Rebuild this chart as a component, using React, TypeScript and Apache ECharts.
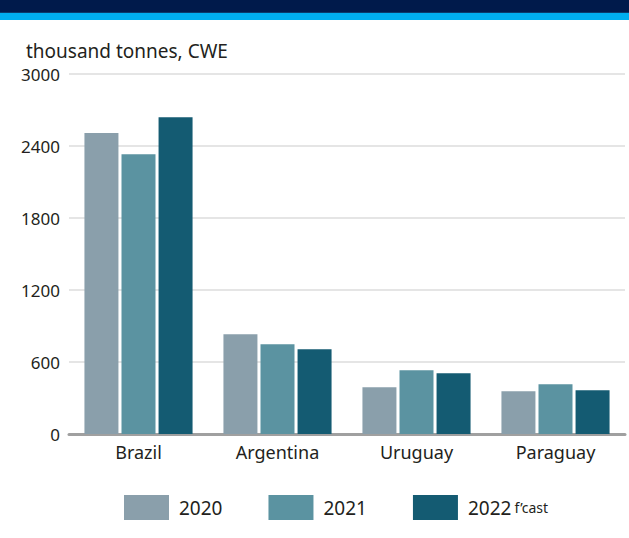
import React, { useEffect, useRef } from "react";
import * as echarts from "echarts";

const categories = ["Brazil", "Argentina", "Uruguay", "Paraguay"];
const seriesNames = ["2020", "2021", "2022 f’cast"];
const values2020 = [2508, 831, 389, 356];
const values2021 = [2331, 747, 531, 414];
const values2022 = [2639, 706, 506, 364];
const yTicks = { min: 0, max: 3000, interval: 600 };
const subtitle = "thousand tonnes, CWE";

const colors = ["#8a9fab", "#5b93a1", "#145b72"];
const FONT = "'Noto Sans', sans-serif";
const TEXT = "#231f20";

export default function App() {
  const ref = useRef<HTMLDivElement>(null);
  useEffect(() => {
    if (!ref.current) return;
    const chart = echarts.init(ref.current, undefined, { renderer: "svg" });
    const data = [values2020, values2021, values2022];
    chart.setOption({
      animation: false,
      backgroundColor: "#ffffff",
      textStyle: { fontFamily: FONT },
      graphic: [
        { type: "rect", shape: { x: 0, y: 0, width: 629, height: 12 }, style: { fill: "#001a4b" }, silent: true },
        { type: "rect", shape: { x: 0, y: 12, width: 629, height: 1 }, style: { fill: "#0a3a6a" }, silent: true },
        { type: "rect", shape: { x: 0, y: 13, width: 629, height: 7 }, style: { fill: "#00aeef" }, silent: true },
      ],
      title: {
        text: subtitle,
        left: 21,
        top: 35,
        textStyle: { fontSize: 19, fontWeight: "normal", color: TEXT, fontFamily: FONT, lineHeight: 22 },
      },
      grid: { left: 69, right: 4, top: 74, bottom: 104, containLabel: false },
      legend: {
        data: seriesNames,
        left: 119,
        top: 490,
        icon: "rect",
        itemWidth: 45,
        itemHeight: 25,
        itemGap: 46,
        formatter: (name: string) =>
          name.startsWith("2022") ? "{a|2022} {b|f’cast}" : "{a|" + name + "}",
        textStyle: {
          color: TEXT,
          fontFamily: FONT,
          padding: [0, 0, 0, 5],
          rich: {
            a: { fontSize: 19, color: TEXT, fontFamily: FONT },
            b: { fontSize: 14, color: TEXT, fontFamily: FONT },
          },
        },
      },
      xAxis: {
        type: "category",
        data: categories,
        axisTick: { show: false },
        axisLine: { lineStyle: { color: "#a0a0a0", width: 3 } },
        axisLabel: { fontSize: 18, color: TEXT, margin: 9, fontFamily: FONT },
      },
      yAxis: {
        type: "value",
        min: yTicks.min,
        max: yTicks.max,
        interval: yTicks.interval,
        axisLine: { show: false },
        axisTick: { show: false },
        axisLabel: {
          fontSize: 17,
          color: TEXT,
          margin: 9,
          fontFamily: FONT,
          formatter: (v: number) => String(v),
        },
        splitLine: { lineStyle: { color: "#dcdcdc", width: 1.5 } },
      },
      series: seriesNames.map((n, i) => ({
        name: n,
        type: "bar",
        data: data[i],
        barWidth: 34,
        barGap: "9%",
        itemStyle: { color: colors[i] },
      })),
    });
    return () => chart.dispose();
  }, []);
  return (
    <div
      ref={ref}
      style={{ position: "fixed", left: 0, top: 0, width: 629, height: 538 }}
    />
  );
}
